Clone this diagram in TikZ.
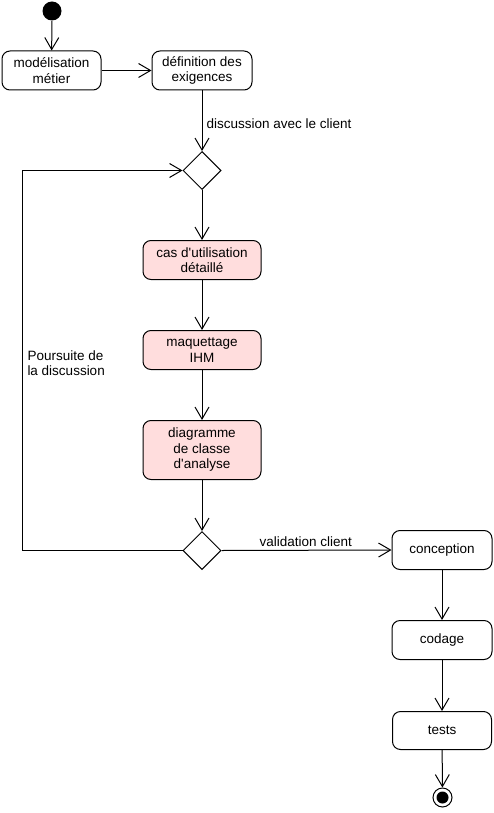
\documentclass[tikz,border=0pt]{standalone}
\usepackage{fontspec}
\setmainfont{Liberation Sans}
\usetikzlibrary{arrows.meta,shapes.geometric}
\definecolor{actpink}{RGB}{255,221,221}
\begin{document}
\begin{tikzpicture}[x=1pt,y=-1pt,
  font=\fontsize{13.5}{15.5}\selectfont,
  line width=1pt,
  act/.style={draw, rounded corners=8pt, align=center, inner sep=0pt},
  pinkact/.style={act, fill=actpink},
  decis/.style={draw, diamond, aspect=1, minimum width=38pt, minimum height=38pt, inner sep=0pt},
  flow/.style={-{Straight Barb[length=12pt,width=14pt,line width=1pt]}},
  lbl/.style={anchor=base west, inner sep=0pt, align=left}
]
\useasboundingbox (0,0) rectangle (494,813);

\node[circle, fill=black, minimum size=19pt, inner sep=0pt] (init) at (52,11) {};
\node[act, minimum width=99pt, minimum height=39pt] (m) at (51.5,70.5) {modélisation\\métier};
\node[act, minimum width=100pt, minimum height=39pt] (d) at (202,70.5) {définition des\\exigences};
\node[decis] (d1) at (202,170.5) {};
\node[pinkact, minimum width=118pt, minimum height=39pt] (cas) at (202,260) {cas d\textquotesingle utilisation\\détaillé};
\node[pinkact, minimum width=118pt, minimum height=39pt] (maq) at (202,350) {maquettage\\IHM};
\node[pinkact, minimum width=118pt, minimum height=59pt] (diag) at (202,450) {diagramme\\de classe\\d\textquotesingle analyse};
\node[decis] (d2) at (202,550.5) {};
\node[act, minimum width=100pt, minimum height=39pt] (conc) at (442,550) {conception};
\node[act, minimum width=100pt, minimum height=39pt] (cod) at (442,640) {codage};
\node[act, minimum width=99pt, minimum height=38pt] (tests) at (442,730.5) {tests};
\node[circle, draw, minimum size=19pt, inner sep=0pt] (fin) at (442.5,797.5) {};
\node[circle, fill=black, minimum size=12pt, inner sep=0pt] (finin) at (fin.center) {};

\coordinate (lc) at (22,550.5);

\draw[flow] (init) -- (m);
\draw[flow] (m) -- (d);
\draw[flow] (d) -- (d1);
\draw[flow] (d1) -- (cas);
\draw[flow] (cas) -- (maq);
\draw[flow] (maq) -- (diag);
\draw[flow] (diag) -- (d2);
\draw[flow] (d2.west) -- (lc) |- (d1.west);
\draw[flow] (d2.east) -- (conc.west);
\draw[flow] (conc) -- (cod);
\draw[flow] (cod) -- (tests);
\draw[flow] (tests) -- (fin);

\node[lbl] (l1) at (206,128.5) {discussion avec le client};
\node[lbl] (l2) at (259,546.5) {validation client};
\node[lbl] (l3) at (27,375.5) {Poursuite de\\la discussion};
\end{tikzpicture}
\end{document}
